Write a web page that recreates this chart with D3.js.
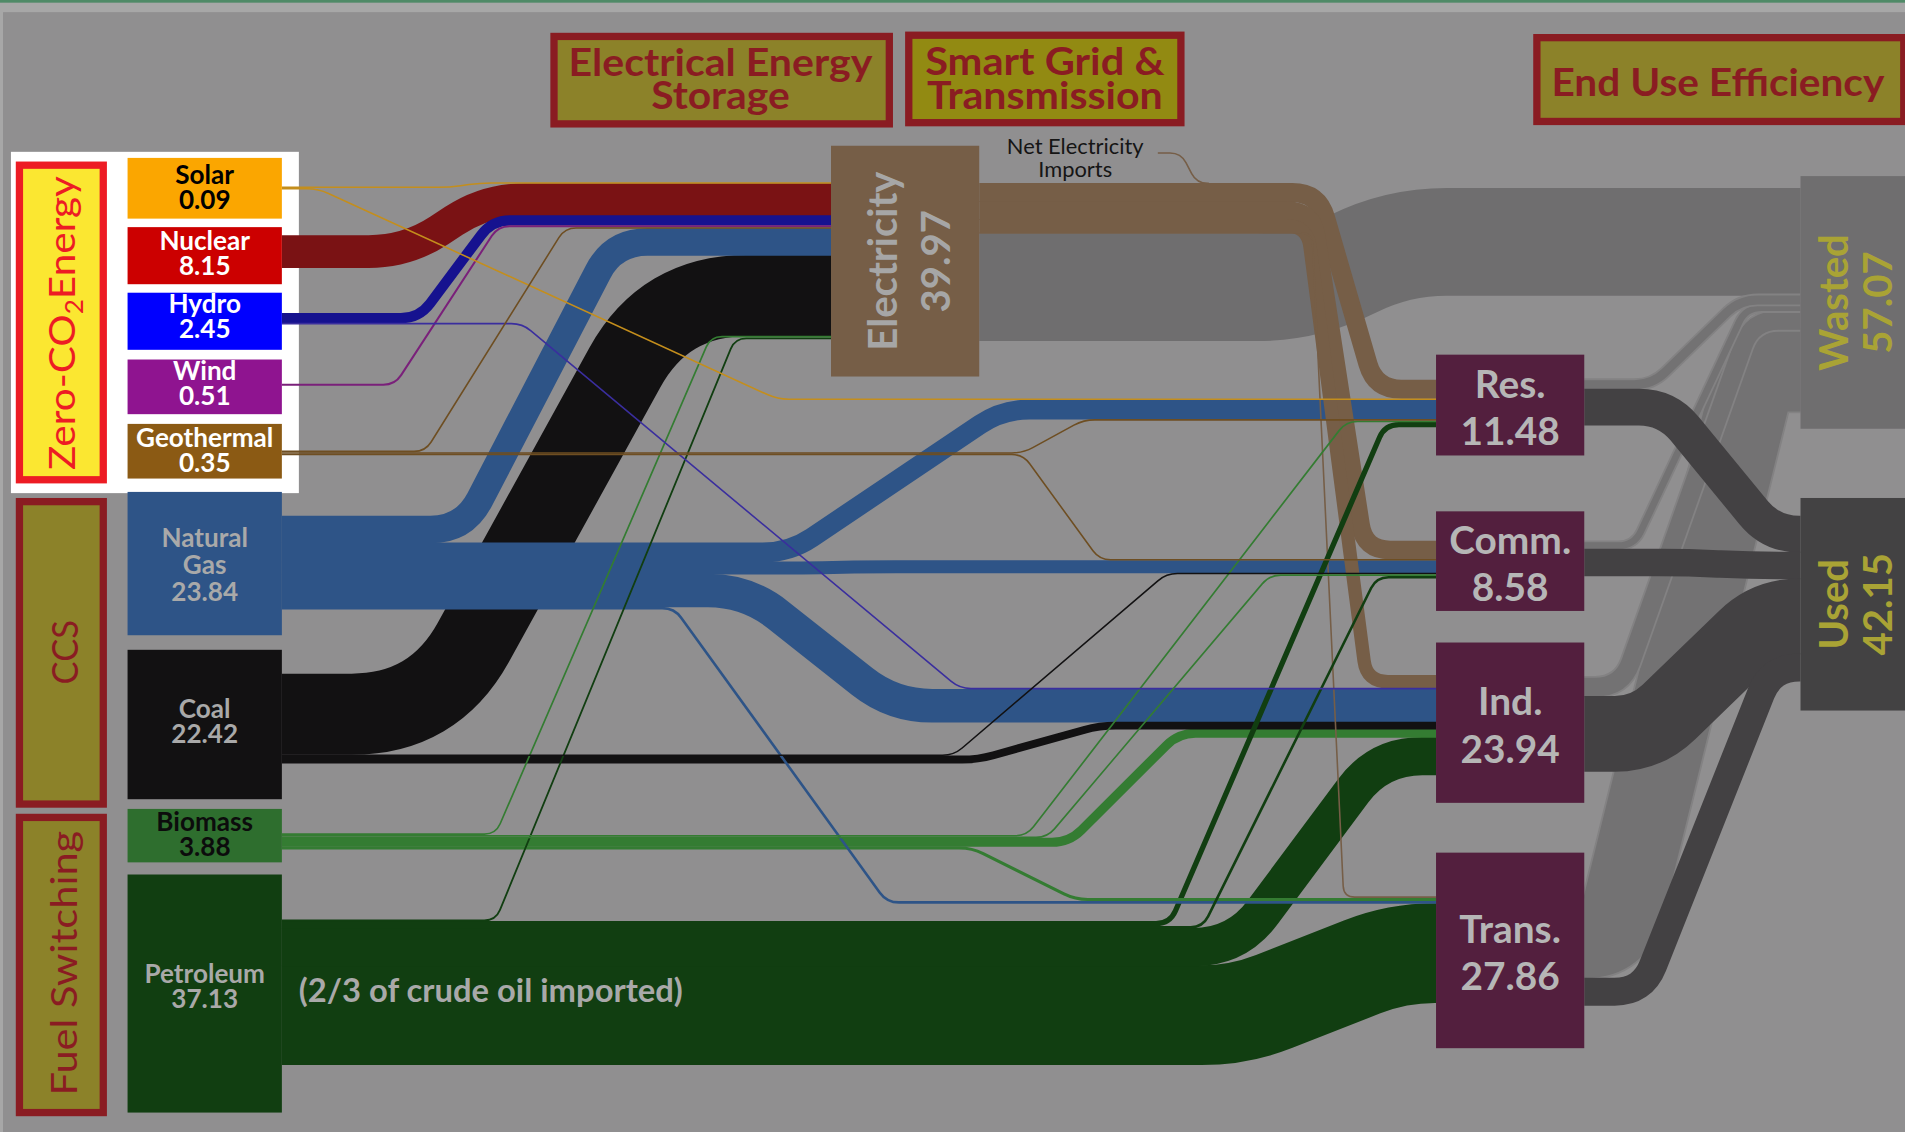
<!DOCTYPE html>
<html>
<head>
<meta charset="utf-8">
<script src="https://cdn.jsdelivr.net/npm/d3@7"></script>
<style>
  body { margin: 0; background: #a7a7a7; overflow: hidden; }
  svg { display: block; font-family: Lato, "Open Sans", sans-serif; }
</style>
</head>
<body>
<div class="chartDiv"></div>
<script>
// Energy flow chart (quads)

// Data
// =====
const sources = ["Solar", "Nuclear", "Hydro", "Wind", "Geothermal", "Natural Gas", "Coal", "Biomass", "Petroleum"];
const sourceValues = [0.09, 8.15, 2.45, 0.51, 0.35, 23.84, 22.42, 3.88, 37.13];

const sectors = ["Res.", "Comm.", "Ind.", "Trans."];
const sectorValues = [11.48, 8.58, 23.94, 27.86];

const electricityValue = 39.97;
const netImports = 0.11;

const outcomes = ["Wasted", "Used"];
const outcomeValues = [57.07, 42.15];

// source -> target, quads
const flows = [
  ["Solar", "Electricity", 0.02], ["Solar", "Res.", 0.07],
  ["Nuclear", "Electricity", 8.15],
  ["Hydro", "Electricity", 2.43], ["Hydro", "Ind.", 0.02],
  ["Wind", "Electricity", 0.51],
  ["Geothermal", "Electricity", 0.31], ["Geothermal", "Res.", 0.02], ["Geothermal", "Comm.", 0.02],
  ["Natural Gas", "Electricity", 6.83], ["Natural Gas", "Res.", 4.87], ["Natural Gas", "Comm.", 3.12],
  ["Natural Gas", "Ind.", 8.36], ["Natural Gas", "Trans.", 0.66],
  ["Coal", "Electricity", 20.54], ["Coal", "Comm.", 0.07], ["Coal", "Ind.", 1.81],
  ["Biomass", "Electricity", 0.43], ["Biomass", "Res.", 0.43], ["Biomass", "Comm.", 0.10],
  ["Biomass", "Ind.", 2.11], ["Biomass", "Trans.", 0.81],
  ["Petroleum", "Electricity", 0.46], ["Petroleum", "Res.", 1.20], ["Petroleum", "Comm.", 0.66],
  ["Petroleum", "Ind.", 9.53], ["Petroleum", "Trans.", 25.28],
  ["Electricity", "Res.", 4.67], ["Electricity", "Comm.", 4.57], ["Electricity", "Ind.", 3.20],
  ["Electricity", "Trans.", 0.02], ["Electricity", "Wasted", 27.39],
  ["Res.", "Wasted", 2.30], ["Res.", "Used", 9.18],
  ["Comm.", "Wasted", 1.72], ["Comm.", "Used", 6.86],
  ["Ind.", "Wasted", 4.79], ["Ind.", "Used", 19.15],
  ["Trans.", "Wasted", 20.89], ["Trans.", "Used", 6.97]
];

const categories = ["Zero-CO2Energy", "CCS", "Fuel Switching"];
const banners = [["Electrical Energy", "Storage"], ["Smart Grid &", "Transmission"], ["End Use Efficiency"]];
const importLabel = ["Net Electricity", "Imports"];
const crudeNote = "(2/3 of crude oil imported)";

// Layout (drawn in a 1568 x 932 view box)
// =======
const boxes = {
  "Solar": {x: 105, y: 130, w: 127, h: 50, out: 153.5, dy: -1},
  "Nuclear": {x: 105, y: 187, w: 127, h: 47, out: 194, dy: -2},
  "Hydro": {x: 105, y: 241, w: 127, h: 47, out: 258, dy: -4},
  "Wind": {x: 105, y: 296, w: 127, h: 45, out: 316, dy: -3},
  "Geothermal": {x: 105, y: 349, w: 127, h: 45, out: 371, dy: -1},
  "Natural Gas": {x: 105, y: 405, w: 127, h: 118, out: 425, dy: 0},
  "Coal": {x: 105, y: 535, w: 127, h: 123, out: 555, dy: -3},
  "Biomass": {x: 105, y: 666, w: 127, h: 44, out: 686, dy: -1},
  "Petroleum": {x: 105, y: 720, w: 127, h: 196, out: 757, dy: -6},
  "Electricity": {x: 684, y: 120, w: 122, h: 190, in: 150, out: 151},
  "Res.": {x: 1182, y: 292, w: 122, h: 83, in: 313, out: 313},
  "Comm.": {x: 1182, y: 421, w: 122, h: 82, in: 445.5, out: 446.5},
  "Ind.": {x: 1182, y: 529, w: 122, h: 132, in: 556, out: 558},
  "Trans.": {x: 1182, y: 702, w: 122, h: 161, in: 738, out: 738},
  "Wasted": {x: 1482, y: 145, w: 90, h: 208, in: 155},
  "Used": {x: 1482, y: 410, w: 90, h: 175, in: 425}
};

const inOrder = {
  "Electricity": ["Solar", "Nuclear", "Hydro", "Wind", "Geothermal", "Natural Gas", "Coal", "Biomass", "Petroleum"],
  "Res.": ["Electricity", "Solar", "Natural Gas", "Geothermal", "Biomass", "Petroleum"],
  "Comm.": ["Electricity", "Geothermal", "Natural Gas", "Coal", "Biomass", "Petroleum"],
  "Ind.": ["Electricity", "Hydro", "Natural Gas", "Coal", "Biomass", "Petroleum"],
  "Trans.": ["Electricity", "Biomass", "Natural Gas", "Petroleum"],
  "Wasted": ["Electricity", "Res.", "Comm.", "Ind.", "Trans."],
  "Used": ["Res.", "Comm.", "Ind.", "Trans."]
};

// where each band leaves its row and where it reaches the target row
const routes = {
  "Solar>Electricity": [370, 395], "Solar>Res.": [262, 640],
  "Nuclear>Electricity": [335, 400],
  "Hydro>Electricity": [345, 405], "Hydro>Ind.": [430, 790],
  "Wind>Electricity": [325, 410],
  "Geothermal>Electricity": [350, 465], "Geothermal>Res.": [842, 892], "Geothermal>Comm.": [842, 905],
  "Natural Gas>Electricity": [382, 505], "Natural Gas>Res.": [650, 825], "Natural Gas>Comm.": [660, 720],
  "Natural Gas>Ind.": [615, 735], "Natural Gas>Trans.": [555, 730],
  "Coal>Electricity": [357, 547], "Coal>Comm.": [785, 960], "Coal>Ind.": [805, 905],
  "Biomass>Electricity": [408, 585], "Biomass>Res.": [845, 1108], "Biomass>Comm.": [862, 1045],
  "Biomass>Ind.": [880, 970], "Biomass>Trans.": [800, 885],
  "Petroleum>Electricity": [408, 605], "Petroleum>Res.": [963, 1140], "Petroleum>Comm.": [990, 1133],
  "Petroleum>Ind.": [1018, 1135], "Petroleum>Trans.": [1020, 1150],
  "Electricity>Res.": [1085, 1132], "Electricity>Comm.": [1080, 1123],
  "Electricity>Ind.": [1076, 1125], "Electricity>Trans.": [1080, 1106],
  "Electricity>Wasted": [1075, 1150],
  "Res.>Wasted": [1360, 1432], "Res.>Used": [1372, 1458],
  "Comm.>Wasted": [1345, 1437], "Comm.>Used": [1390, 1440],
  "Ind.>Wasted": [1335, 1442], "Ind.>Used": [1355, 1455],
  "Trans.>Wasted": [1330, 1445], "Trans.>Used": [1352, 1458]
};

const nodeColor = {
  "Solar": "#fba600", "Nuclear": "#cc0000", "Hydro": "#0000ff", "Wind": "#8f1490", "Geothermal": "#8b5a14",
  "Natural Gas": "#2e5487", "Coal": "#121112", "Biomass": "#2e6e2e", "Petroleum": "#113e11",
  "Electricity": "#765e47", "Res.": "#531f3e", "Comm.": "#531f3e", "Ind.": "#531f3e", "Trans.": "#531f3e",
  "Wasted": "#6f6e6f", "Used": "#434243"
};

const linkColor = {
  "Solar": "#c48e1c", "Nuclear": "#7a1214", "Hydro": "#16128f", "Wind": "#7a207a", "Geothermal": "#6e4e22",
  "Natural Gas": "#2e5487", "Coal": "#121112", "Biomass": "#347c32", "Petroleum": "#113e11",
  "Electricity": "#765e47"
};

const labelColor = {
  "Solar": "#000", "Nuclear": "#fff", "Hydro": "#fff", "Wind": "#fff", "Geothermal": "#fff",
  "Natural Gas": "#a9a9a9", "Coal": "#a9a9a9", "Biomass": "#0c0c0c", "Petroleum": "#a9a9a9"
};

let makeChart = () => {

  let svg = d3.select(".chartDiv")
              .append("svg")
              .attr("width", 1905)
              .attr("height", 1132)
              .attr("viewBox", "0 0 1568 932")
              .attr("preserveAspectRatio", "none");

  // page frame
  svg.append("rect").attr("width", 1568).attr("height", 932).attr("fill", "#a7a7a7");
  svg.append("rect").attr("x", 2.5).attr("y", 10).attr("width", 1566).attr("height", 922).attr("fill", "#908f90");
  svg.append("rect").attr("width", 1568).attr("height", 2.2).attr("fill", "#4f8a67");

  // value -> band thickness
  let wScale = d3.scaleLinear().domain([0, 10]).range([0, 32.2]);
  let bandW = v => Math.max(wScale(v), 1.3);

  let links = flows.map(([source, target, value]) => ({source, target, value, w: bandW(value)}));

  // stack the bands on each side of a box
  let outY = {}, inY = {};
  Object.keys(boxes).forEach(k => { outY[k] = boxes[k].out; inY[k] = boxes[k].in; });
  links.forEach(l => {
    l.y0 = outY[l.source] + l.w / 2;
    outY[l.source] += l.w;
  });
  Object.entries(inOrder).forEach(([t, list]) => {
    list.forEach(s => {
      let l = links.find(d => d.source === s && d.target === t);
      l.y1 = inY[t] + l.w / 2;
      inY[t] += l.w;
    });
  });
  links.forEach(l => {
    l.x0 = boxes[l.source].x + boxes[l.source].w;
    l.x1 = boxes[l.target].x;
    [l.xa, l.xb] = routes[`${l.source}>${l.target}`];
  });

  // flat - slanted - flat with rounded bends
  let bandPath = d => {
    let {x0, y0, xa, xb, y1, x1, w} = d;
    if (Math.abs(y1 - y0) < 0.5) return `M${x0},${y0}H${x1}`;
    let dx = xb - xa, dy = y1 - y0, len = Math.hypot(dx, dy);
    let r = Math.max(2, Math.min(w * 0.9 + 8, len / 2 - 1, xa - x0 - 1, x1 - xb - 1));
    let ux = dx / len, uy = dy / len;
    return `M${x0},${y0}H${xa - r}Q${xa},${y0} ${xa + ux * r},${y0 + uy * r}` +
           `L${xb - ux * r},${y1 - uy * r}Q${xb},${y1} ${xb + r},${y1}H${x1}`;
  };

  // Zero-CO2 panel and category boxes
  svg.append("rect").attr("x", 9).attr("y", 125).attr("width", 237).attr("height", 281).attr("fill", "#ffffff");

  let catBoxes = [
    {y: 136, h: 259, fill: "#fbe731", stroke: "#ed1c24", cy: 266, bx: 62, len: 242},
    {y: 413, h: 249, fill: "#8c8229", stroke: "#8a1c22", cy: 537, bx: 64, len: 53},
    {y: 673, h: 243, fill: "#8c8229", stroke: "#8a1c22", cy: 793, bx: 63, len: 218}
  ];
  catBoxes.forEach((c, i) => {
    svg.append("rect")
       .attr("x", 16).attr("y", c.y).attr("width", 69).attr("height", c.h)
       .attr("fill", c.fill).attr("stroke", c.stroke).attr("stroke-width", 6);
    let t = svg.append("text")
               .attr("transform", `translate(${c.bx},${c.cy}) rotate(-90)`)
               .attr("text-anchor", "middle")
               .attr("font-size", 31)
               .attr("fill", c.stroke)
               .attr("textLength", c.len)
               .attr("lengthAdjust", "spacingAndGlyphs");
    if (i === 0) {
      t.append("tspan").text("Zero-CO");
      t.append("tspan").attr("font-size", 20).attr("dy", 6).text("2");
      t.append("tspan").attr("dy", -6).text("Energy");
    } else {
      t.text(categories[i]);
    }
  });

  // banners
  let bannerBoxes = [
    {x: 456, y: 30, w: 276, h: 72, fill: "#8c8229", cx: 593, base: [62.5, 90], len: [250, 114]},
    {x: 748, y: 29, w: 224, h: 72, fill: "#928a12", cx: 860, base: [62, 90], len: [197, 194]},
    {x: 1265, y: 31, w: 302, h: 69, fill: "#8c8229", cx: 1414, base: [79], len: [274]}
  ];
  bannerBoxes.forEach((b, i) => {
    svg.append("rect")
       .attr("x", b.x).attr("y", b.y).attr("width", b.w).attr("height", b.h)
       .attr("fill", b.fill).attr("stroke", "#8a1c22").attr("stroke-width", 6);
    banners[i].forEach((line, j) => {
      svg.append("text")
         .attr("x", b.cx).attr("y", b.base[j])
         .attr("text-anchor", "middle")
         .attr("font-size", 31).attr("font-weight", "bold")
         .attr("fill", "#8a1c22")
         .attr("textLength", b.len[j]).attr("lengthAdjust", "spacingAndGlyphs")
         .text(line);
    });
  });

  // Bands
  let linkG = svg.append("g").attr("fill", "none");
  let draw = (list, color, extra = 0) => {
    linkG.selectAll(null)
         .data(list)
         .enter()
         .append("path")
         .attr("d", bandPath)
         .attr("stroke", typeof color === "function" ? color : () => color)
         .attr("stroke-width", d => d.w + (d.w > 3 ? extra : 0));
  };

  let elecWaste = links.filter(l => l.source === "Electricity" && l.target === "Wasted");
  draw(elecWaste, "#6f6e6f", 0.6);

  ["Trans.", "Ind.", "Comm.", "Res."].forEach(s => {
    let l = links.filter(d => d.source === s && d.target === "Wasted");
    draw(l, "#838283", 3);
    draw(l, "#737273");
  });

  draw(links.filter(l => l.target === "Used"), "#434143", 0.6);

  let fromSources = links.filter(l => sources.includes(l.source)).sort((a, b) => b.w - a.w);
  draw(fromSources.filter(l => l.w > 5), d => linkColor[d.source], 0.7);
  draw(links.filter(l => l.source === "Electricity" && l.target !== "Wasted"), linkColor.Electricity, 0.7);
  draw(fromSources.filter(l => l.w <= 5), d => d.source === "Hydro" && d.target === "Ind." ? "#3a2e9e" : linkColor[d.source], 0.5);

  // net electricity imports joining the electricity band
  draw([{x0: 953, y0: 126, xa: 972, xb: 985, y1: 151, x1: 995, w: bandW(netImports)}], linkColor.Electricity);

  svg.append("text")
     .attr("x", 885).attr("y", 127)
     .attr("text-anchor", "middle").attr("font-size", 18).attr("fill", "#151515")
     .selectAll("tspan").data(importLabel).enter().append("tspan")
     .attr("x", 885).attr("dy", (d, i) => i ? 18.5 : 0)
     .text(d => d);

  // Boxes
  let nodeG = svg.append("g");

  sources.forEach((name, i) => {
    let b = boxes[name];
    nodeG.append("rect")
         .attr("x", b.x).attr("y", b.y).attr("width", b.w).attr("height", b.h)
         .attr("fill", nodeColor[name]);
    let lines = name.split(" ").concat(sourceValues[i].toFixed(2));
    let gap = lines.length > 2 ? 22 : 20.5;
    let first = b.y + b.h / 2 + b.dy - 2.5 - (lines.length - 2) * 11;
    lines.forEach((line, j) => {
      nodeG.append("text")
           .attr("x", b.x + b.w / 2).attr("y", first + j * gap)
           .attr("text-anchor", "middle")
           .attr("font-size", 21.5).attr("font-weight", "bold")
           .attr("fill", labelColor[name])
           .text(line);
    });
  });

  nodeG.append("text")
       .attr("x", 246).attr("y", 825)
       .attr("font-size", 27).attr("font-weight", "bold")
       .attr("fill", "#a9a9a9")
       .attr("textLength", 316).attr("lengthAdjust", "spacingAndGlyphs")
       .text(crudeNote);

  // electricity
  let e = boxes.Electricity;
  nodeG.append("rect")
       .attr("x", e.x).attr("y", e.y).attr("width", e.w).attr("height", e.h)
       .attr("fill", nodeColor.Electricity);
  ["Electricity", electricityValue.toFixed(2)].forEach((line, j) => {
    nodeG.append("text")
         .attr("transform", `translate(${738 + j * 44},${e.y + e.h / 2}) rotate(-90)`)
         .attr("text-anchor", "middle")
         .attr("font-size", 33).attr("font-weight", "bold")
         .attr("fill", "#a6a6a6")
         .text(line);
  });

  // sectors
  sectors.forEach((name, i) => {
    let b = boxes[name];
    nodeG.append("rect")
         .attr("x", b.x).attr("y", b.y).attr("width", b.w).attr("height", b.h)
         .attr("fill", nodeColor[name]);
    [name, sectorValues[i].toFixed(2)].forEach((line, j) => {
      nodeG.append("text")
           .attr("x", b.x + b.w / 2).attr("y", b.y + b.h / 2 - 6 + j * 39)
           .attr("text-anchor", "middle")
           .attr("font-size", 32).attr("font-weight", "bold")
           .attr("fill", "#b6b6b6")
           .text(line);
    });
  });

  // wasted / used
  outcomes.forEach((name, i) => {
    let b = boxes[name];
    nodeG.append("rect")
         .attr("x", b.x).attr("y", b.y).attr("width", b.w).attr("height", b.h)
         .attr("fill", nodeColor[name]);
    [name, outcomeValues[i].toFixed(2)].forEach((line, j) => {
      nodeG.append("text")
           .attr("transform", `translate(${1521 + j * 36},${b.y + b.h / 2}) rotate(-90)`)
           .attr("text-anchor", "middle")
           .attr("font-size", 33).attr("font-weight", "bold")
           .attr("fill", "#a9a335")
           .text(line);
    });
  });
};

makeChart();
</script>
</body>
</html>
